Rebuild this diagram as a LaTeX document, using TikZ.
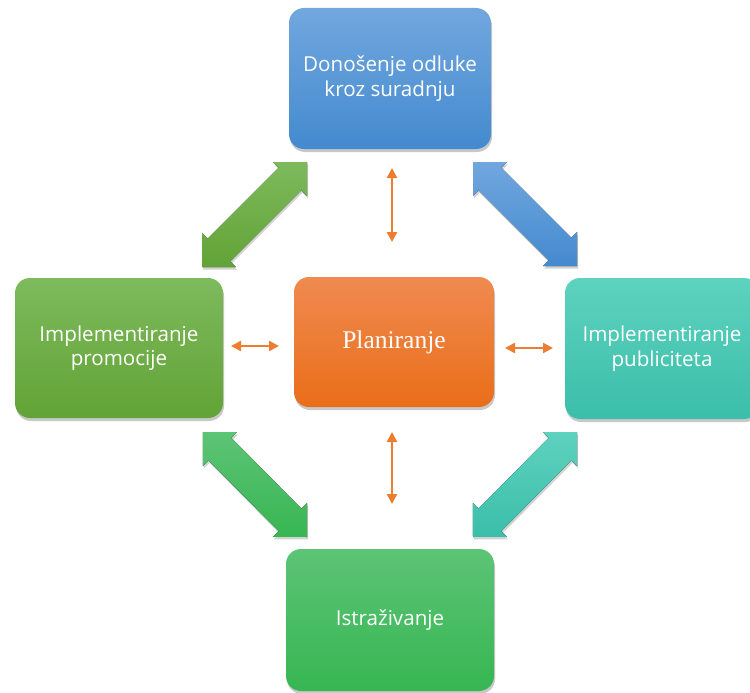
\documentclass[tikz,border=0pt]{standalone}
\usepackage{fontspec}
\setmainfont{Open Sans}
\newfontfamily\serifface{Liberation Serif}
\usetikzlibrary{calc,arrows.meta,shadows}
\definecolor{bluetop}{RGB}{113,167,222}
\definecolor{bluebot}{RGB}{68,138,207}
\definecolor{orgtop}{RGB}{240,138,80}
\definecolor{orgbot}{RGB}{233,110,25}
\definecolor{lgtop}{RGB}{125,186,92}
\definecolor{lgbot}{RGB}{98,163,54}
\definecolor{tealtop}{RGB}{94,210,190}
\definecolor{tealbot}{RGB}{58,190,170}
\definecolor{bgtop}{RGB}{92,196,118}
\definecolor{bgbot}{RGB}{55,182,82}
\definecolor{linkorange}{RGB}{237,125,49}
\tikzset{
  box/.style={rounded corners=15pt, text=white, align=center, inner sep=2pt,
    font=\fontsize{20.6}{24.5}\selectfont,
    drop shadow={shadow xshift=1pt, shadow yshift=-3pt, opacity=0.3, fill=black!70}},
  link/.style={draw=linkorange, line width=2.3pt, {Triangle[length=10pt,width=10pt]}-{Triangle[length=10pt,width=10pt]}},
  blockshadow/.style={drop shadow={shadow xshift=1pt, shadow yshift=-2.5pt, opacity=0.25, fill=black!70}}
}
\newcommand\blockarrow[4]{%
  \fill[top color=#3, bottom color=#4, blockshadow]
    (#1) -- ($(#1)!24pt!(#2)!24pt!90:(#2)$) -- ($(#1)!24pt!(#2)!16pt!90:(#2)$)
    -- ($(#2)!24pt!(#1)!16pt!-90:(#1)$) -- ($(#2)!24pt!(#1)!24pt!-90:(#1)$)
    -- (#2) -- ($(#2)!24pt!(#1)!24pt!90:(#1)$) -- ($(#2)!24pt!(#1)!16pt!90:(#1)$)
    -- ($(#1)!24pt!(#2)!16pt!-90:(#2)$) -- ($(#1)!24pt!(#2)!24pt!-90:(#2)$) -- cycle;}
\begin{document}
\begin{tikzpicture}[x=1pt,y=-1pt]
\clip (0,0) rectangle (750,693);
\fill[white] (0,0) rectangle (750,693);
% boxes
\node[box, top color=bluetop, bottom color=bluebot, minimum width=202pt, minimum height=141pt] (dec) at (390,78.5) {Donošenje odluke\\kroz suradnju};
\node[box, top color=orgtop, bottom color=orgbot, minimum width=200pt, minimum height=130pt, font=\serifface\fontsize{25.5}{30}\selectfont] (plan) at (394,342) {Planiranje};
\node[box, top color=lgtop, bottom color=lgbot, minimum width=208pt, minimum height=140pt] (promo) at (119,348) {Implementiranje\\promocije};
\node[box, top color=tealtop, bottom color=tealbot, minimum width=194pt, minimum height=141pt] (publ) at (662,348.5) {Implementiranje\\publiciteta};
\node[box, top color=bgtop, bottom color=bgbot, minimum width=208pt, minimum height=142pt] (istr) at (390,620) {Istraživanje};
% connector end points
\coordinate (tl1) at (307,162); \coordinate (tl2) at (202,267);
\coordinate (tr1) at (473,162); \coordinate (tr2) at (577,266);
\coordinate (bl1) at (203,432); \coordinate (bl2) at (307,537);
\coordinate (br1) at (577,432); \coordinate (br2) at (473,537);
\coordinate (ha1) at (231,346); \coordinate (ha2) at (279,346);
\coordinate (hb1) at (505,348); \coordinate (hb2) at (553,348);
\coordinate (va1) at (392,168); \coordinate (va2) at (392,242);
\coordinate (vb1) at (392,432); \coordinate (vb2) at (392,504);
% big block arrows
\blockarrow{tl1}{tl2}{lgtop}{lgbot}
\blockarrow{tr1}{tr2}{bluetop}{bluebot}
\blockarrow{bl1}{bl2}{bgtop}{bgbot}
\blockarrow{br1}{br2}{tealtop}{tealbot}
% small orange arrows
\draw[link] (ha1) -- (ha2);
\draw[link] (hb1) -- (hb2);
\draw[link] (va1) -- (va2);
\draw[link] (vb1) -- (vb2);
\end{tikzpicture}
\end{document}
